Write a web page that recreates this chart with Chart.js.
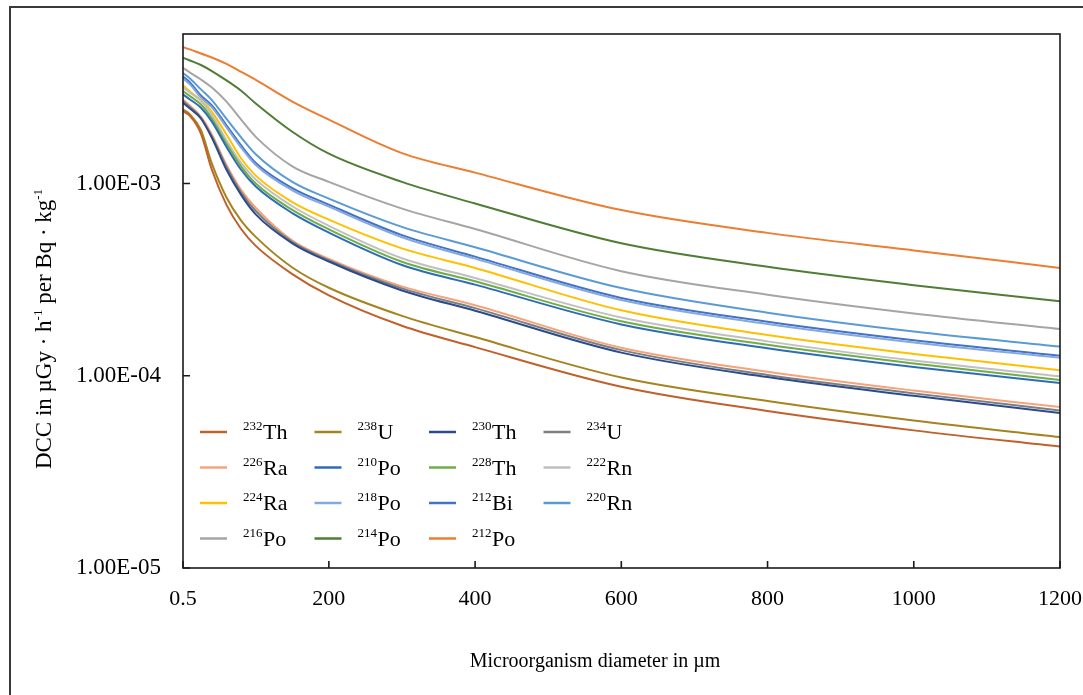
<!DOCTYPE html>
<html>
<head>
<meta charset="utf-8">
<script src="https://cdn.jsdelivr.net/npm/chart.js@4.4.1/dist/chart.umd.min.js"></script>
<style>
    html, body { margin: 0; padding: 0; background: #fff; overflow: hidden; }
    #wrap { position: relative; width: 1083px; height: 695px; }
    #frame { position: absolute; left: 9px; top: 6px; width: 1200px; height: 800px; border: 2px solid #3a3a3a; box-sizing: border-box; pointer-events: none; }
    canvas { position: absolute; left: 0; top: 0; }
</style>
</head>
<body>
<div id="wrap">
    <canvas id="myChart" width="1083" height="695"></canvas>
    <div id="frame"></div>
</div>
<script>
const FONT = "'Liberation Serif', 'Times New Roman', serif";

// microorganism diameter in µm
const diameters = [0.5, 10, 25, 40, 60, 80, 100, 150, 200, 300, 400, 600, 800, 1000, 1200];

// DCC values (µGy·h-1 per Bq·kg-1)
const th232 = [2.38e-3, 2.25e-3, 1.82e-3, 1.18e-3, 7.75e-4, 5.80e-4, 4.74e-4, 3.38e-4, 2.62e-4, 1.82e-4, 1.41e-4, 8.77e-5, 6.56e-5, 5.20e-5, 4.28e-5];
const u238 = [2.43e-3, 2.29e-3, 1.90e-3, 1.27e-3, 8.47e-4, 6.42e-4, 5.28e-4, 3.66e-4, 2.87e-4, 2.05e-4, 1.59e-4, 9.80e-5, 7.39e-5, 5.85e-5, 4.80e-5];
const th230 = [2.63e-3, 2.46e-3, 2.18e-3, 1.73e-3, 1.18e-3, 8.73e-4, 6.91e-4, 4.89e-4, 3.93e-4, 2.78e-4, 2.18e-4, 1.32e-4, 9.85e-5, 7.87e-5, 6.40e-5];
const u234 = [2.69e-3, 2.50e-3, 2.20e-3, 1.76e-3, 1.22e-3, 9.00e-4, 7.20e-4, 4.97e-4, 3.99e-4, 2.85e-4, 2.25e-4, 1.36e-4, 1.01e-4, 8.10e-5, 6.60e-5];
const ra226 = [2.74e-3, 2.54e-3, 2.23e-3, 1.80e-3, 1.25e-3, 9.27e-4, 7.48e-4, 5.05e-4, 4.06e-4, 2.92e-4, 2.33e-4, 1.40e-4, 1.05e-4, 8.38e-5, 6.87e-5];
const po210 = [2.91e-3, 2.74e-3, 2.48e-3, 2.10e-3, 1.55e-3, 1.18e-3, 9.65e-4, 7.02e-4, 5.56e-4, 3.77e-4, 2.98e-4, 1.85e-4, 1.39e-4, 1.11e-4, 9.16e-5];
const th228 = [3.03e-3, 2.85e-3, 2.58e-3, 2.18e-3, 1.61e-3, 1.23e-3, 1.00e-3, 7.30e-4, 5.78e-4, 3.92e-4, 3.10e-4, 1.92e-4, 1.45e-4, 1.16e-4, 9.52e-5];
const rn222 = [3.16e-3, 2.97e-3, 2.69e-3, 2.28e-3, 1.68e-3, 1.28e-3, 1.05e-3, 7.62e-4, 6.03e-4, 4.09e-4, 3.23e-4, 2.01e-4, 1.51e-4, 1.20e-4, 9.94e-5];
const ra224 = [3.24e-3, 3.01e-3, 2.71e-3, 2.36e-3, 1.80e-3, 1.35e-3, 1.10e-3, 8.01e-4, 6.49e-4, 4.60e-4, 3.64e-4, 2.19e-4, 1.63e-4, 1.30e-4, 1.07e-4];
const po218 = [3.52e-3, 3.28e-3, 2.80e-3, 2.49e-3, 1.96e-3, 1.54e-3, 1.25e-3, 9.23e-4, 7.58e-4, 5.26e-4, 4.07e-4, 2.48e-4, 1.86e-4, 1.49e-4, 1.24e-4];
const bi212 = [3.61e-3, 3.36e-3, 2.87e-3, 2.55e-3, 2.01e-3, 1.58e-3, 1.28e-3, 9.47e-4, 7.77e-4, 5.39e-4, 4.17e-4, 2.54e-4, 1.91e-4, 1.53e-4, 1.27e-4];
const rn220 = [3.76e-3, 3.52e-3, 3.09e-3, 2.72e-3, 2.17e-3, 1.74e-3, 1.42e-3, 1.02e-3, 8.35e-4, 5.95e-4, 4.66e-4, 2.86e-4, 2.13e-4, 1.70e-4, 1.42e-4];
const po216 = [4.00e-3, 3.78e-3, 3.48e-3, 3.16e-3, 2.67e-3, 2.15e-3, 1.75e-3, 1.23e-3, 1.02e-3, 7.41e-4, 5.80e-4, 3.50e-4, 2.64e-4, 2.11e-4, 1.75e-4];
const po214 = [4.52e-3, 4.37e-3, 4.14e-3, 3.85e-3, 3.44e-3, 3.04e-3, 2.61e-3, 1.86e-3, 1.43e-3, 1.02e-3, 7.88e-4, 4.89e-4, 3.69e-4, 2.96e-4, 2.44e-4];
const po212 = [5.13e-3, 4.99e-3, 4.75e-3, 4.53e-3, 4.19e-3, 3.81e-3, 3.46e-3, 2.67e-3, 2.15e-3, 1.44e-3, 1.14e-3, 7.28e-4, 5.54e-4, 4.49e-4, 3.64e-4];

// legend order (row by row, 4 columns)
const massNumbers = ['232', '238', '230', '234', '226', '210', '228', '222', '224', '218', '212', '220', '216', '214', '212'];
const elements = ['Th', 'U', 'Th', 'U', 'Ra', 'Po', 'Th', 'Rn', 'Ra', 'Po', 'Bi', 'Rn', 'Po', 'Po', 'Po'];
const seriesValues = [th232, u238, th230, u234, ra226, po210, th228, rn222, ra224, po218, bi212, rn220, po216, po214, po212];
const seriesColors = ['#c0602a', '#a5841f', '#2b4c8c', '#7f7f7f', '#f4a47c', '#2e6db4', '#70ad47', '#c0c0c0',
    '#ffc000', '#84a9e0', '#4472c4', '#5b9bd5', '#a5a5a5', '#4f7d35', '#ed7d31'];

const xTicks = [0.5, 200, 400, 600, 800, 1000, 1200];
const yTicks = [1e-5, 1e-4, 1e-3];


function formatExp(v) {
    let parts = v.toExponential(2).split('e');
    let exp = parseInt(parts[1]);
    let sign = exp < 0 ? '-' : '+';
    let digits = String(Math.abs(exp)).padStart(2, '0');
    return parts[0] + 'E' + sign + digits;
}


const frameAndTicks = {
    id: 'frameAndTicks',
    afterDatasetsDraw(chart) {
        const ctx = chart.ctx;
        const a = chart.chartArea;
        const x = chart.scales.x;
        const y = chart.scales.y;
        ctx.save();
        ctx.strokeStyle = '#1a1a1a';
        ctx.lineWidth = 1.6;
        ctx.strokeRect(a.left, a.top, a.right - a.left, a.bottom - a.top);
        ctx.beginPath();
        x.ticks.forEach(t => {
            let px = x.getPixelForValue(t.value);
            ctx.moveTo(px, a.bottom);
            ctx.lineTo(px, a.bottom - 7);
        });
        y.ticks.forEach(t => {
            let py = y.getPixelForValue(t.value);
            ctx.moveTo(a.left, py);
            ctx.lineTo(a.left + 7, py);
        });
        ctx.stroke();
        ctx.restore();
    }
};


const isotopeLegend = {
    id: 'isotopeLegend',
    afterDraw(chart) {
        const ctx = chart.ctx;
        const a = chart.chartArea;
        ctx.save();
        chart.data.datasets.forEach((ds, i) => {
            let col = i % 4;
            let row = Math.floor(i / 4);
            let x0 = a.left + 17 + col * 114.5;
            let y0 = a.top + 398 + row * 35.5;
            ctx.strokeStyle = ds.borderColor;
            ctx.lineWidth = 2.5;
            ctx.beginPath();
            ctx.moveTo(x0, y0);
            ctx.lineTo(x0 + 27, y0);
            ctx.stroke();
            ctx.fillStyle = '#000';
            ctx.textAlign = 'left';
            ctx.textBaseline = 'alphabetic';
            ctx.font = '13px ' + FONT;
            ctx.fillText(massNumbers[i], x0 + 43, y0 - 2);
            let w = ctx.measureText(massNumbers[i]).width;
            ctx.font = '22px ' + FONT;
            ctx.fillText(elements[i], x0 + 43 + w + 0.5, y0 + 7);
        });
        ctx.restore();
    }
};


const axisTitles = {
    id: 'axisTitles',
    afterDraw(chart) {
        const ctx = chart.ctx;
        ctx.save();
        ctx.fillStyle = '#000';
        ctx.textBaseline = 'alphabetic';

        // x title
        ctx.font = '20px ' + FONT;
        ctx.textAlign = 'center';
        ctx.fillText('Microorganism diameter in µm', 595, 667);

        // y title with superscripts
        let parts = [['DCC in µGy · h', 23, 0], ['-1', 13, -9], [' per Bq · kg', 23, 0], ['-1', 13, -9]];
        let total = 0;
        parts.forEach(p => { ctx.font = p[1] + 'px ' + FONT; total += ctx.measureText(p[0]).width; });
        ctx.translate(51, 329);
        ctx.rotate(-Math.PI / 2);
        ctx.textAlign = 'left';
        let pos = -total / 2;
        parts.forEach(p => {
            ctx.font = p[1] + 'px ' + FONT;
            ctx.fillText(p[0], pos, p[2]);
            pos += ctx.measureText(p[0]).width;
        });
        ctx.restore();
    }
};


function buildDatasets() {
    return seriesValues.map((values, i) => ({
        label: massNumbers[i] + elements[i],
        data: values.map((v, j) => ({ x: diameters[j], y: v })),
        borderColor: seriesColors[i],
        backgroundColor: seriesColors[i],
        borderWidth: 2,
        pointRadius: 0,
        fill: false,
        cubicInterpolationMode: 'monotone'
    }));
}


new Chart(document.getElementById('myChart'), {
    type: 'line',
    data: { datasets: buildDatasets() },
    options: {
        responsive: false,
        animation: false,
        devicePixelRatio: 1,
        layout: { padding: { top: 34, right: 23, left: 0, bottom: 0 } },
        plugins: {
            legend: { display: false },
            tooltip: { enabled: false }
        },
        scales: {
            x: {
                type: 'linear',
                min: 0.5,
                max: 1200,
                grid: { display: false, drawTicks: false },
                border: { display: false },
                afterBuildTicks: scale => { scale.ticks = xTicks.map(v => ({ value: v })); },
                afterFit: scale => {
                    scale.height = 127;
                    scale.paddingLeft = 0;
                    scale.paddingRight = 0;
                },
                ticks: {
                    autoSkip: false,
                    maxRotation: 0,
                    padding: 18,
                    color: '#000',
                    font: { family: FONT, size: 22 },
                    callback: v => String(v)
                }
            },
            y: {
                type: 'logarithmic',
                min: 1e-5,
                max: 6e-3,
                grid: { display: false, drawTicks: false },
                border: { display: false },
                afterBuildTicks: scale => { scale.ticks = yTicks.map(v => ({ value: v })); },
                afterFit: scale => {
                    scale.width = 183;
                    scale.paddingTop = 0;
                    scale.paddingBottom = 0;
                },
                ticks: {
                    autoSkip: false,
                    padding: 22,
                    color: '#000',
                    font: { family: FONT, size: 23 },
                    callback: v => formatExp(v)
                }
            }
        }
    },
    plugins: [frameAndTicks, isotopeLegend, axisTitles]
});
</script>
</body>
</html>
